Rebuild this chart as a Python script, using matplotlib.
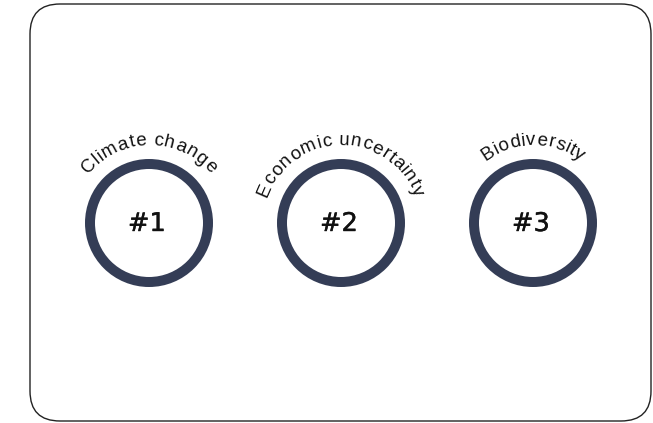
import numpy as np
import matplotlib
matplotlib.use("Agg")
import matplotlib.pyplot as plt
import matplotlib.patheffects as pe
from matplotlib.patches import FancyBboxPatch, Circle
from matplotlib.font_manager import FontProperties

# ---- data ----
labels = ["Climate change", "Economic uncertainty", "Biodiversity"]
ranks = ["#1", "#2", "#3"]

W, H, DPI = 653, 423, 100
ring_color = "#343d56"

fig = plt.figure(figsize=(W / DPI, H / DPI), dpi=DPI)
ax = fig.add_axes([0, 0, 1, 1])
ax.set_xlim(0, W)
ax.set_ylim(H, 0)
ax.set_aspect("equal")
ax.axis("off")

# rounded frame
frame = FancyBboxPatch((30, 4), 621, 417, boxstyle="round,pad=0,rounding_size=30",
                       fill=False, edgecolor="#222222", linewidth=1.0)
ax.add_patch(frame)

centers_x = [149, 341, 533]
cy = 223
ring_r = 59
label_R = 78
tracking = 1.08

renderer = fig.canvas.get_renderer()
lab_prop = FontProperties(family="Liberation Sans", size=13.5)


def width(s):
    w, h, d = renderer.get_text_width_height_descent(s, lab_prop, ismath=False)
    return w


def arc_text(cx, cy, R, text):
    total = width(text) * tracking
    for i, ch in enumerate(text):
        if ch == " ":
            continue
        left = (width(text[: i + 1]) - width(ch)) * tracking
        cw = width(ch)
        mid = left + cw / 2.0 - total / 2.0
        phi = mid / R
        x = cx + R * np.sin(phi)
        y = cy - R * np.cos(phi)
        ax.text(x, y, ch, fontproperties=lab_prop, ha="center", va="baseline",
                rotation=-np.degrees(phi), rotation_mode="anchor", color="#111111")


for cx, lab, rk in zip(centers_x, labels, ranks):
    ax.add_patch(Circle((cx, cy), ring_r, fill=False, edgecolor=ring_color,
                        linewidth=10 * 72 / DPI))
    ax.text(cx - 2, cy + 1, rk, ha="center", va="center", fontsize=18.5,
            family="DejaVu Sans", color="#111111",
            path_effects=[pe.withStroke(linewidth=0.3, foreground="#111111")])
    arc_text(cx, cy, label_R, lab)

fig.savefig("out.png", dpi=DPI)
